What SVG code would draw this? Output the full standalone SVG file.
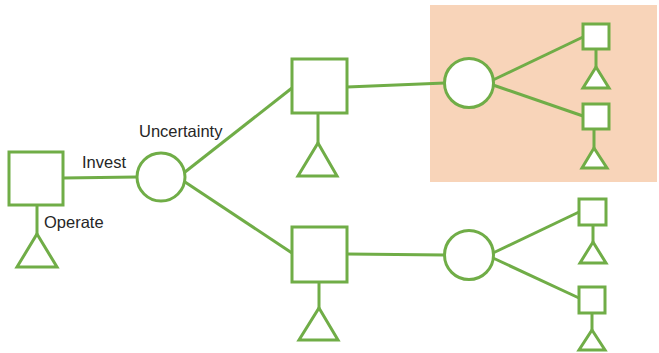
<svg xmlns="http://www.w3.org/2000/svg" width="659" height="353" viewBox="0 0 659 353">
<style>
.s{fill:#fff;stroke:#70AD47;stroke-width:3}
.l{stroke:#70AD47;stroke-width:3;fill:none}
.t{font-family:"Liberation Sans",Arial,sans-serif;font-size:16.5px;fill:#262626}
</style>
<rect x="0" y="0" width="659" height="353" fill="#fff"/>
<rect id="highlight" x="430" y="5" width="227" height="177" fill="#F8D4B9"/>
<g id="connectors">
<line class="l" x1="63" y1="178" x2="137" y2="177"/>
<line class="l" x1="37" y1="205" x2="37" y2="234"/>
<line class="l" x1="185" y1="172" x2="292" y2="88"/>
<line class="l" x1="185" y1="182" x2="292" y2="253"/>
<line class="l" x1="318" y1="113" x2="318" y2="143"/>
<line class="l" x1="319" y1="282" x2="319" y2="308"/>
<line class="l" x1="347" y1="87" x2="445" y2="83"/>
<line class="l" x1="347" y1="254" x2="445" y2="255"/>
<line class="l" x1="493" y1="80" x2="583" y2="37"/>
<line class="l" x1="493" y1="85" x2="583" y2="116"/>
<line class="l" x1="596" y1="49" x2="596" y2="67"/>
<line class="l" x1="594" y1="129" x2="594" y2="148"/>
<line class="l" x1="493" y1="253" x2="579" y2="212"/>
<line class="l" x1="493" y1="258" x2="579" y2="298"/>
<line class="l" x1="593" y1="225" x2="593" y2="242"/>
<line class="l" x1="592" y1="313" x2="592" y2="330"/>
</g>
<g id="root">
<rect class="s" x="9" y="152" width="54" height="53"/>
<polygon class="s" points="37,234 57,267 17,267"/>
</g>
<g id="labels">
<text class="t" x="82" y="168">Invest</text>
<text class="t" x="44" y="228">Operate</text>
<text class="t" x="139" y="137">Uncertainty</text>
</g>
<g id="chance1"><circle class="s" cx="161" cy="177" r="24"/></g>
<g id="dec-top">
<rect class="s" x="292" y="59" width="55" height="54"/>
<polygon class="s" points="318,143 337,176 298,176"/>
</g>
<g id="dec-bottom">
<rect class="s" x="292" y="227" width="55" height="55"/>
<polygon class="s" points="319,308 338,340 299,340"/>
</g>
<g id="chance-top"><circle class="s" cx="469" cy="83" r="24.5"/></g>
<g id="chance-bottom"><circle class="s" cx="469" cy="255" r="24.5"/></g>
<g id="leaf1">
<rect class="s" x="583" y="24" width="26" height="25"/>
<polygon class="s" points="596,67 609,88 583,88"/>
</g>
<g id="leaf2">
<rect class="s" x="583" y="104" width="26" height="25"/>
<polygon class="s" points="594,148 607,168 582,168"/>
</g>
<g id="leaf3">
<rect class="s" x="579" y="199" width="27" height="26"/>
<polygon class="s" points="593,242 606,263 580,263"/>
</g>
<g id="leaf4">
<rect class="s" x="579" y="287" width="26" height="26"/>
<polygon class="s" points="592,330 605,350 579,350"/>
</g>
</svg>
